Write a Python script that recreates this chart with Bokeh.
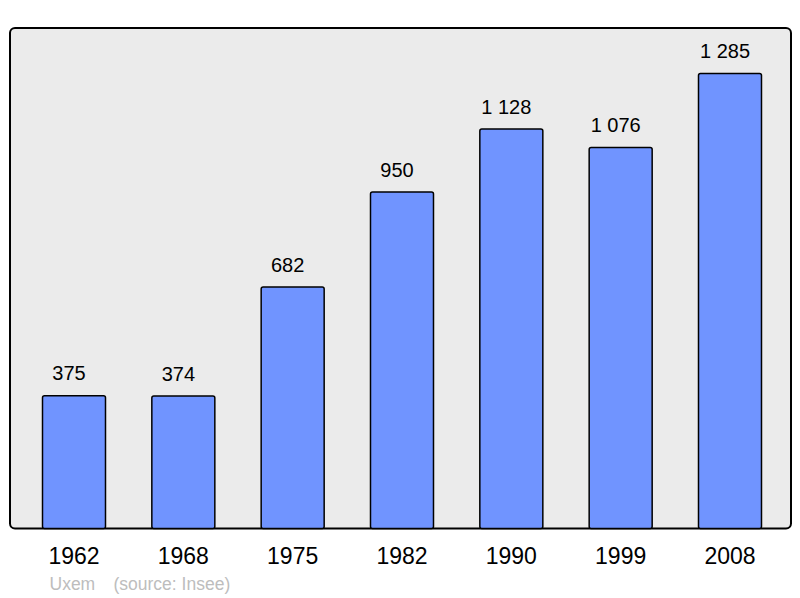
from bokeh.plotting import figure
from bokeh.models import Range1d, BoxAnnotation, Label, ColumnDataSource
from bokeh.core.properties import value
from bokeh.embed import file_html
from bokeh.resources import INLINE

years = ["1962", "1968", "1975", "1982", "1990", "1999", "2008"]
population = [375, 374, 682, 950, 1128, 1076, 1285]
pop_labels = ["375", "374", "682", "950", "1 128", "1 076", "1 285"]
commune = "Uxem"
source_note = "(source: Insee)"

W, H = 800, 598
x0_px = 73.5      # centre of first bar (canvas px)
step_px = 109.333 # spacing between bars (px)
base_px = 528.0   # baseline (canvas px from top)
scale = 0.35409   # px per inhabitant

x_start = -x0_px / step_px
x_end = (W - x0_px) / step_px
y_start = -(H - base_px) / scale
y_end = base_px / scale

def px_x(px):
    return (px - x0_px) / step_px

def px_y(py):
    return (base_px - py) / scale

src = ColumnDataSource(dict(
    x=list(range(len(years))), pop=population, lab=pop_labels, year=years,
    zero=[0] * len(years)))

p = figure(width=W, height=H, x_range=Range1d(x_start, x_end),
           y_range=Range1d(y_start, y_end), output_backend="svg",
           toolbar_location=None, x_axis_location=None, y_axis_location=None,
           min_border=0, min_border_left=0, min_border_right=0,
           min_border_top=0, min_border_bottom=0)
p.grid.visible = False
p.outline_line_color = None
p.background_fill_color = "white"
p.border_fill_color = "white"

box = BoxAnnotation(left=px_x(9.5), right=px_x(790.5), top=px_y(27.5), bottom=0,
                    fill_color="#ebebeb", fill_alpha=1, line_color="black",
                    line_alpha=1, line_width=2, border_radius=5, level="underlay")
p.add_layout(box)

p.vbar(x="x", top="pop", bottom=0, width=63 / step_px, source=src,
       fill_color="#7094ff", line_color="black", line_width=1.5, border_radius=2)

p.text(x="x", y="pop", text="lab", source=src, text_font=value("Liberation Sans"),
       text_font_size="20px", text_align="center", text_baseline="alphabetic",
       x_offset=-5, y_offset=-22.5, text_color="black")

p.text(x="x", y="zero", text="year", source=src, text_font=value("Liberation Sans"),
       text_font_size="23px", text_align="center", text_baseline="alphabetic",
       y_offset=27, text_color="black")

p.add_layout(Label(x=px_x(49), y=px_y(583), text=commune, text_font="Liberation Sans",
                   text_font_size="17.5px", text_color="#bdbdbd", text_align="left",
                   text_baseline="alphabetic"))
p.add_layout(Label(x=px_x(113), y=px_y(583), text=source_note, text_font="Liberation Sans",
                   text_font_size="17.5px", text_color="#bdbdbd", text_align="left",
                   text_baseline="alphabetic"))

open("out.html", "w").write(file_html(p, INLINE))
